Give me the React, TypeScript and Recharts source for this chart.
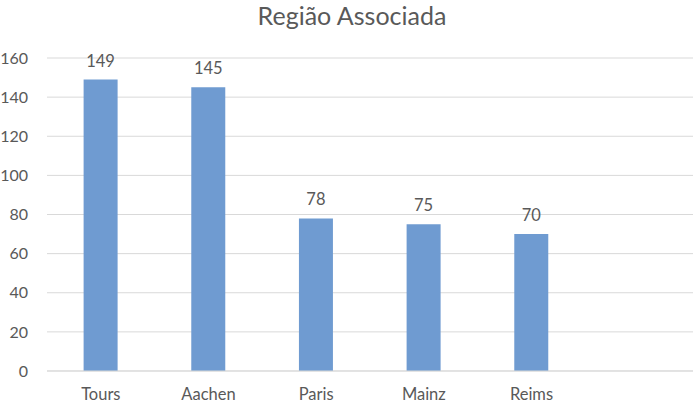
import React from "react";
import {
	BarChart,
	Bar,
	XAxis,
	YAxis,
	CartesianGrid,
	LabelList,
} from "recharts";

const title = "Região Associada";
// last slot is empty in the original chart
const cities = ["Tours", "Aachen", "Paris", "Mainz", "Reims", ""];
const counts = [149, 145, 78, 75, 70, null];
const yTicks = [0, 20, 40, 60, 80, 100, 120, 140, 160];

const data = cities.map((city, i) => ({ city, count: counts[i] }));

const font = "Lato, 'Noto Sans', sans-serif";
const grey = "#595959";

const App = () => {
	return (
		<div style={{ position: "absolute", left: 0, top: 0, width: 700, height: 406, background: "#fff", fontFamily: font }}>
			<div
				style={{
					position: "absolute",
					top: 0,
					left: 0,
					width: 704,
					textAlign: "center",
					fontSize: 25,
					color: grey,
				}}
			>
				{title}
			</div>
			<BarChart
				width={700}
				height={406}
				data={data}
				margin={{ top: 58, right: 7, left: 0, bottom: 0 }}
				barCategoryGap="34%"
			>
				<CartesianGrid vertical={false} stroke="#d9d9d9" />
				<XAxis
					dataKey="city"
					height={35}
					tickLine={false}
					axisLine={{ stroke: "#d9d9d9" }}
					tick={{ fill: grey, fontSize: 16.5, fontFamily: font }}
					tickMargin={11}
					interval={0}
				/>
				<YAxis
					width={47}
					domain={[0, 160]}
					ticks={yTicks}
					tickLine={false}
					axisLine={false}
					tick={{ fill: grey, fontSize: 16, fontFamily: font }}
					tickMargin={13}
				/>
				<Bar dataKey="count" fill="#6f9bd1" isAnimationActive={false}>
					<LabelList
						dataKey="count"
						position="top"
						offset={13}
						fill={grey}
						fontSize={16.5}
						fontFamily={font}
					/>
				</Bar>
			</BarChart>
		</div>
	);
};

export default App;
